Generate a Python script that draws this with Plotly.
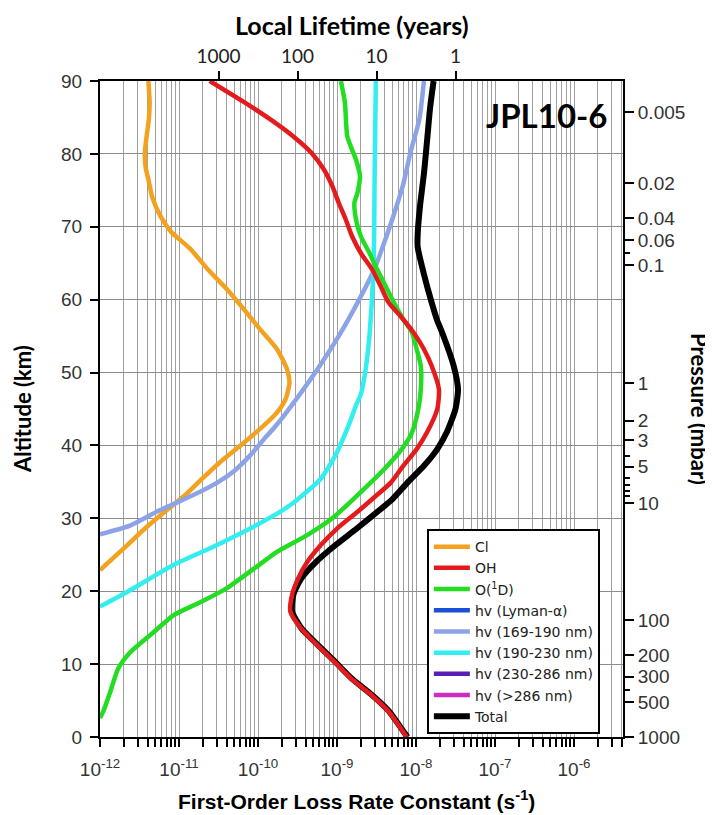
import plotly.graph_objects as go

# ---------------- data ----------------
cl_alt = [90, 87, 84.7, 82.5, 80.2, 78, 76.5, 74, 71.5, 70, 69.2, 67, 64.1, 61.4, 58.7,
          55.9, 53.2, 50.4, 48.6, 46.4, 44.4, 42.3, 40, 37.7, 35.4, 33.2, 30.9, 28.6, 26.3, 22.9]
cl_k = [4.1e-12, 4.25e-12, 4.15e-12, 3.9e-12, 3.7e-12, 3.8e-12, 4.1e-12, 4.6e-12, 5.8e-12,
        7.1e-12, 8.1e-12, 1.38e-11, 2.34e-11, 4.07e-11, 6.6e-11, 1.07e-10, 1.74e-10, 2.34e-10,
        2.5e-10, 2.24e-10, 1.7e-10, 1.07e-10, 6.0e-11, 3.3e-11, 1.95e-11, 1.2e-11, 6.6e-12,
        3.7e-12, 2.2e-12, 1.0e-12]

oh_alt = [90, 87, 84.7, 82.4, 80.2, 77.9, 75.6, 73.3, 71.0, 68.7, 66.4, 64.1, 61.9, 59.6, 57.8,
          55.5, 53.2, 50.9, 47.7, 45.0, 41.8, 39.5, 37.2, 34.9, 33.2, 30.9, 28.6, 26.3, 24.0,
          21.7, 19.5, 17.2, 14.9, 12.6, 10.4, 8.1, 5.8, 3.6, 0.8, 0]
oh_k = [2.45e-11, 6.9e-11, 1.45e-10, 2.8e-10, 4.7e-10, 6.8e-10, 8.7e-10, 1.05e-9, 1.29e-9,
        1.55e-9, 2.0e-9, 2.8e-9, 3.55e-9, 4.5e-9, 6.3e-9, 9.3e-9, 1.26e-8, 1.58e-8, 1.95e-8,
        1.86e-8, 1.38e-8, 1.02e-8, 6.9e-9, 4.8e-9, 3.2e-9, 1.82e-9, 1.0e-9, 6.2e-10, 4.2e-10,
        3.2e-10, 2.7e-10, 2.57e-10, 3.5e-10, 5.6e-10, 9.1e-10, 1.48e-9, 2.7e-9, 4.4e-9,
        6.8e-9, 7.6e-9]

o1d_alt = [90, 87, 82.4, 79.2, 77.0, 74.7, 73.3, 71.0, 68.7, 66.4, 64.1, 61.9, 59.6, 57.3,
           55.5, 53.2, 50.9, 47.7, 45.0, 41.8, 39.5, 36.8, 33.6, 30.0, 27.7, 25.4, 23.1, 20.4,
           18.5, 16.7, 14.4, 11.6, 9.4, 6.2, 3.5, 2.6]
o1d_k = [1.12e-9, 1.26e-9, 1.35e-9, 1.74e-9, 1.95e-9, 1.82e-9, 1.66e-9, 1.74e-9, 2.0e-9,
         2.57e-9, 3.24e-9, 4.1e-9, 5.25e-9, 6.9e-9, 8.9e-9, 1.02e-8, 1.15e-8, 1.15e-8,
         1.07e-8, 8.9e-9, 6.6e-9, 4.0e-9, 2.0e-9, 8.7e-10, 4.2e-10, 1.74e-10, 8.9e-11,
         4.0e-11, 1.86e-11, 8.5e-12, 4.8e-12, 2.4e-12, 1.7e-12, 1.35e-12, 1.1e-12, 1.0e-12]

hv169_alt = [90, 84.7, 80.2, 75.6, 71.0, 66.4, 64.1, 59.6, 55.0, 50.4, 45.8, 44.0, 42.5, 40.9,
             38.6, 36.5, 35.0, 33.5, 32.0, 30.9, 29.0, 27.8]
hv169_k = [1.26e-8, 1.1e-8, 8.5e-9, 6.8e-9, 5.0e-9, 3.55e-9, 2.95e-9, 1.82e-9, 1.05e-9,
           5.6e-10, 2.8e-10, 2.1e-10, 1.62e-10, 1.2e-10, 7.9e-11, 5.0e-11, 3.16e-11, 1.74e-11,
           8.7e-12, 5.2e-12, 2.4e-12, 1.0e-12]

hv190_alt = [90, 78, 68.7, 64.1, 59.6, 55.0, 50.4, 47, 45.5, 42.3, 38.6, 35.4, 33.5, 32.0,
             30.5, 29.0, 27.5, 26.0, 23.6, 19.9, 17.9]
hv190_k = [3.1e-9, 3.0e-9, 2.95e-9, 2.9e-9, 2.75e-9, 2.57e-9, 2.3e-9, 2.0e-9, 1.74e-9,
           1.35e-9, 9.5e-10, 6.2e-10, 4.0e-10, 2.7e-10, 1.66e-10, 9.3e-11, 5.0e-11, 2.6e-11,
           8.5e-12, 2.2e-12, 1.0e-12]

total_alt = [90, 86.4, 81.8, 77.3, 72.7, 69.0, 67.2, 63.5, 59.9, 57.1, 55.5, 50.9, 47.7, 45.0,
             41.8, 39.5, 37.2, 34.9, 32.6, 30.8, 28.6, 26.3, 24.0, 21.7, 19.5, 17.2, 14.9,
             12.6, 10.4, 8.1, 5.8, 3.6, 0.8, 0]
total_k = [1.67e-8, 1.51e-8, 1.38e-8, 1.26e-8, 1.12e-8, 1.05e-8, 1.05e-8, 1.26e-8, 1.55e-8,
           1.86e-8, 2.14e-8, 3.0e-8, 3.4e-8, 3.16e-8, 2.45e-8, 1.86e-8, 1.26e-8, 7.8e-9,
           5.0e-9, 3.16e-9, 1.78e-9, 9.5e-10, 5.4e-10, 3.5e-10, 2.8e-10, 2.7e-10, 3.55e-10,
           5.75e-10, 9.3e-10, 1.51e-9, 2.75e-9, 4.5e-9, 6.9e-9, 7.8e-9]

# top axis: local lifetime labels (years)
lifetime_years = [1000, 100, 10, 1]
seconds_per_year = 3.156e7

# right axis: pressure labels and the altitudes where they sit
pressure_labels = ["0.005", "0.02", "0.04", "0.06", "0.1", "1", "2", "3", "5", "10",
                   "100", "200", "300", "500", "1000"]
pressure_alt = [85.7, 76.0, 71.2, 68.2, 64.7, 48.5, 43.4, 40.7, 37.1, 32.1,
                16.0, 11.2, 8.3, 4.8, 0.0]
pressure_minor_alt = [66.4, 38.6, 35.6, 34.6, 33.8, 33.0, 6.4]

decades = [-12, -11, -10, -9, -8, -7, -6]
altitude_ticks = [0, 10, 20, 30, 40, 50, 60, 70, 80, 90]

# ---------------- figure ----------------
LINE_FONT = "Liberation Sans, Arial, sans-serif"
LEGEND_FONT = "DejaVu Sans, Liberation Sans, sans-serif"
BOLD_FONT = "Lato, Open Sans, sans-serif"

fig = go.Figure()

def add(name, x, y, color, width, rank, on_secondary=False):
    fig.add_trace(go.Scatter(x=x, y=y, mode="lines", name=name,
                             line=dict(color=color, width=width, shape="spline", smoothing=0.6),
                             legendrank=rank,
                             xaxis="x2" if on_secondary else "x",
                             yaxis="y2" if on_secondary else "y"))

# Total drawn first so the coloured curves sit on top of it
add("Total", total_k, total_alt, "black", 6, 9)
add("Cl", cl_k, cl_alt, "#F2A21E", 4.5, 1)
add("hv (169-190 nm)", hv169_k, hv169_alt, "#8CA3E8", 4.5, 5)
add("hv (190-230 nm)", hv190_k, hv190_alt, "#33EEF0", 4.5, 6)
add("O(<sup>1</sup>D)", o1d_k, o1d_alt, "#22DD22", 4.5, 3)
add("OH", oh_k, oh_alt, "#E41A1C", 4.5, 2)
# these three lie below 1e-12 everywhere: legend entries only
add("hv (Lyman-α)", [None], [None], "#1A4FD8", 4.5, 4, True)
add("hv (230-286 nm)", [None], [None], "#5A1EB4", 4.5, 7, True)
add("hv (>286 nm)", [None], [None], "#CC2DBE", 4.5, 8, True)

# bottom axis ticks: every 1..9 x 10^n, labels only on decades
x_tickvals, x_ticktext = [], []
for d in decades:
    for m in range(1, 10):
        v = m * 10.0 ** d
        if v <= 4.1e-6:
            x_tickvals.append(v)
            x_ticktext.append(f"10<sup>{d}</sup>" if m == 1 else "")

top_tickvals = [1.0 / (yr * seconds_per_year) for yr in lifetime_years]

XR = [-12, -5.38]

# page body has an 8px margin, so the figure is 8px smaller than the window
fig.update_layout(
    width=705, height=807,
    margin=dict(l=92, r=90, t=73, b=78),
    paper_bgcolor="white", plot_bgcolor="white",
    showlegend=True,
    xaxis=dict(type="log", range=XR, tickmode="array", tickvals=x_tickvals,
               ticktext=x_ticktext, ticks="outside", ticklen=8, tickwidth=1.5,
               tickcolor="black", showline=True, linecolor="black", linewidth=2,
               showgrid=True, gridcolor="#A0A0A0", gridwidth=1, zeroline=False,
               ticklabelstandoff=6,
               tickfont=dict(family=LINE_FONT, size=19, color="#333333")),
    xaxis2=dict(type="log", range=XR, overlaying="x", side="top", anchor="y",
                tickmode="array", tickvals=top_tickvals,
                ticktext=[str(v) for v in lifetime_years], ticks="outside", ticklen=8,
                tickwidth=2, tickcolor="black", showline=True, linecolor="black",
                linewidth=2, showgrid=False, zeroline=False,
                tickfont=dict(family=BOLD_FONT, size=19, color="#222222")),
    yaxis=dict(range=[0, 90], tickmode="array", tickvals=altitude_ticks, ticks="outside",
               ticklen=8, tickwidth=2, tickcolor="black", showline=True, linecolor="black",
               linewidth=2, showgrid=True, gridcolor="#8C8C8C", gridwidth=1, zeroline=False,
               ticklabelstandoff=4,
               tickfont=dict(family=LINE_FONT, size=19, color="#333333")),
    yaxis2=dict(range=[0, 90], overlaying="y", side="right", anchor="x", tickmode="array",
                tickvals=pressure_alt, ticktext=pressure_labels, ticks="outside", ticklen=9,
                tickwidth=2, tickcolor="black", showline=True, linecolor="black", linewidth=2,
                showgrid=False, zeroline=False,
                minor=dict(tickmode="array", tickvals=pressure_minor_alt, ticks="outside",
                           ticklen=5, tickwidth=2, tickcolor="black", showgrid=False),
                tickfont=dict(family=LINE_FONT, size=19, color="#333333")),
    legend=dict(x=0.625, y=0.317, xanchor="left", yanchor="top", bgcolor="white",
                bordercolor="black", borderwidth=2, tracegroupgap=0, itemwidth=36,
                font=dict(family=LEGEND_FONT, size=14, color="#222222")),
    annotations=[
        dict(text="<b>Local Lifetime (years)</b>", xref="paper", yref="paper",
             x=0.482, y=1.086, xanchor="center", yanchor="middle", showarrow=False,
             font=dict(family=BOLD_FONT, size=25, color="black")),
        dict(text="<b>JPL10-6</b>", xref="paper", yref="paper", x=0.853, y=0.948,
             xanchor="center", yanchor="middle", showarrow=False,
             font=dict(family=BOLD_FONT, size=33, color="black")),
        dict(text="<b>Altitude (km)</b>", xref="paper", yref="paper", x=-0.149, y=0.5,
             xanchor="center", yanchor="middle", textangle=-90, showarrow=False,
             font=dict(family=BOLD_FONT, size=22, color="black")),
        dict(text="<b>Pressure (mbar)</b>", xref="paper", yref="paper", x=1.147, y=0.5,
             xanchor="center", yanchor="middle", textangle=90, showarrow=False,
             font=dict(family=BOLD_FONT, size=22, color="black")),
        dict(text="<b>First-Order Loss Rate Constant (s<sup>-1</sup>)</b>", xref="paper",
             yref="paper", x=0.491, y=-0.096, xanchor="center", yanchor="middle",
             showarrow=False, font=dict(family=LINE_FONT, size=21, color="black")),
    ],
)

fig.write_html("out.html")
